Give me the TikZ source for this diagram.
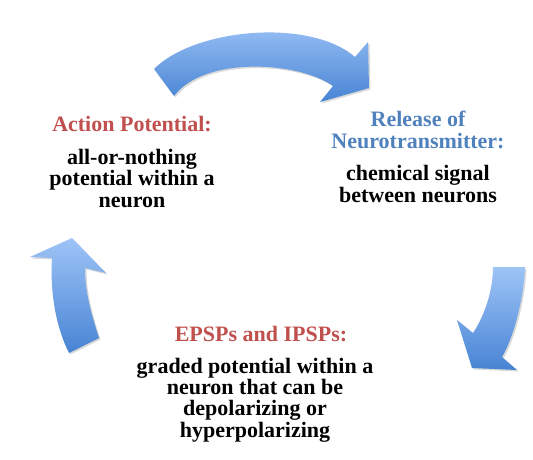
\documentclass[tikz,border=0pt]{standalone}
\usepackage{fontspec}
\setmainfont{Liberation Serif}
\usetikzlibrary{shadows}

\definecolor{titlered}{HTML}{C0504D}
\definecolor{titleblue}{HTML}{4F81BD}
\definecolor{arrowlight}{HTML}{9EC4F7}
\definecolor{arrowdark}{HTML}{4884D4}

\begin{document}
\begin{tikzpicture}[x=1pt,y=-1pt,
	bluearrow/.style={top color=arrowlight, bottom color=arrowdark,
		drop shadow={shadow xshift=1.5pt, shadow yshift=-1.5pt, opacity=0.3}},
	title/.style={font=\bfseries\fontsize{22}{21.3}\selectfont, inner sep=0pt,
		anchor=base, align=center},
	body/.style={title, text=black}]

	\useasboundingbox (0,0) rectangle (533,460);

	% the three arrows of the cycle
	\path[bluearrow] (154,69) .. controls (195,28) and (310,18) .. (355,57)
		-- (368,42) -- (369,88) -- (320,102) -- (333,86)
		.. controls (300,62) and (205,55) .. (174,96) -- cycle;
	\path[bluearrow] (493,267) -- (525,267) .. controls (524,295) and (515,335) .. (502,357)
		-- (517,370) -- (472,368) -- (457,320) -- (473,333)
		.. controls (485,315) and (493,290) .. (493,267) -- cycle;
	\path[bluearrow] (69,353) -- (99,338) .. controls (90,310) and (85,290) .. (85,268)
		-- (106,273) -- (72,238) -- (30,257) -- (52,258)
		.. controls (50,290) and (55,325) .. (69,353) -- cycle;

	% texts (base = last line)
	\node[title, text=titlered] (action) at (132,131) {Action Potential:};
	\node[body] (actiontext) at (132,207) {all-or-nothing\\potential within a\\neuron};

	\node[title, text=titleblue] (release) at (418,148) {Release of\\Neurotransmitter:};
	\node[body] (releasetext) at (418,202) {chemical signal\\between neurons};

	\node[title, text=titlered] (epsp) at (261,341) {EPSPs and IPSPs:};
	\node[body] (epsptext) at (255,437) {graded potential within a\\neuron that can be\\depolarizing or\\hyperpolarizing};

\end{tikzpicture}
\end{document}
